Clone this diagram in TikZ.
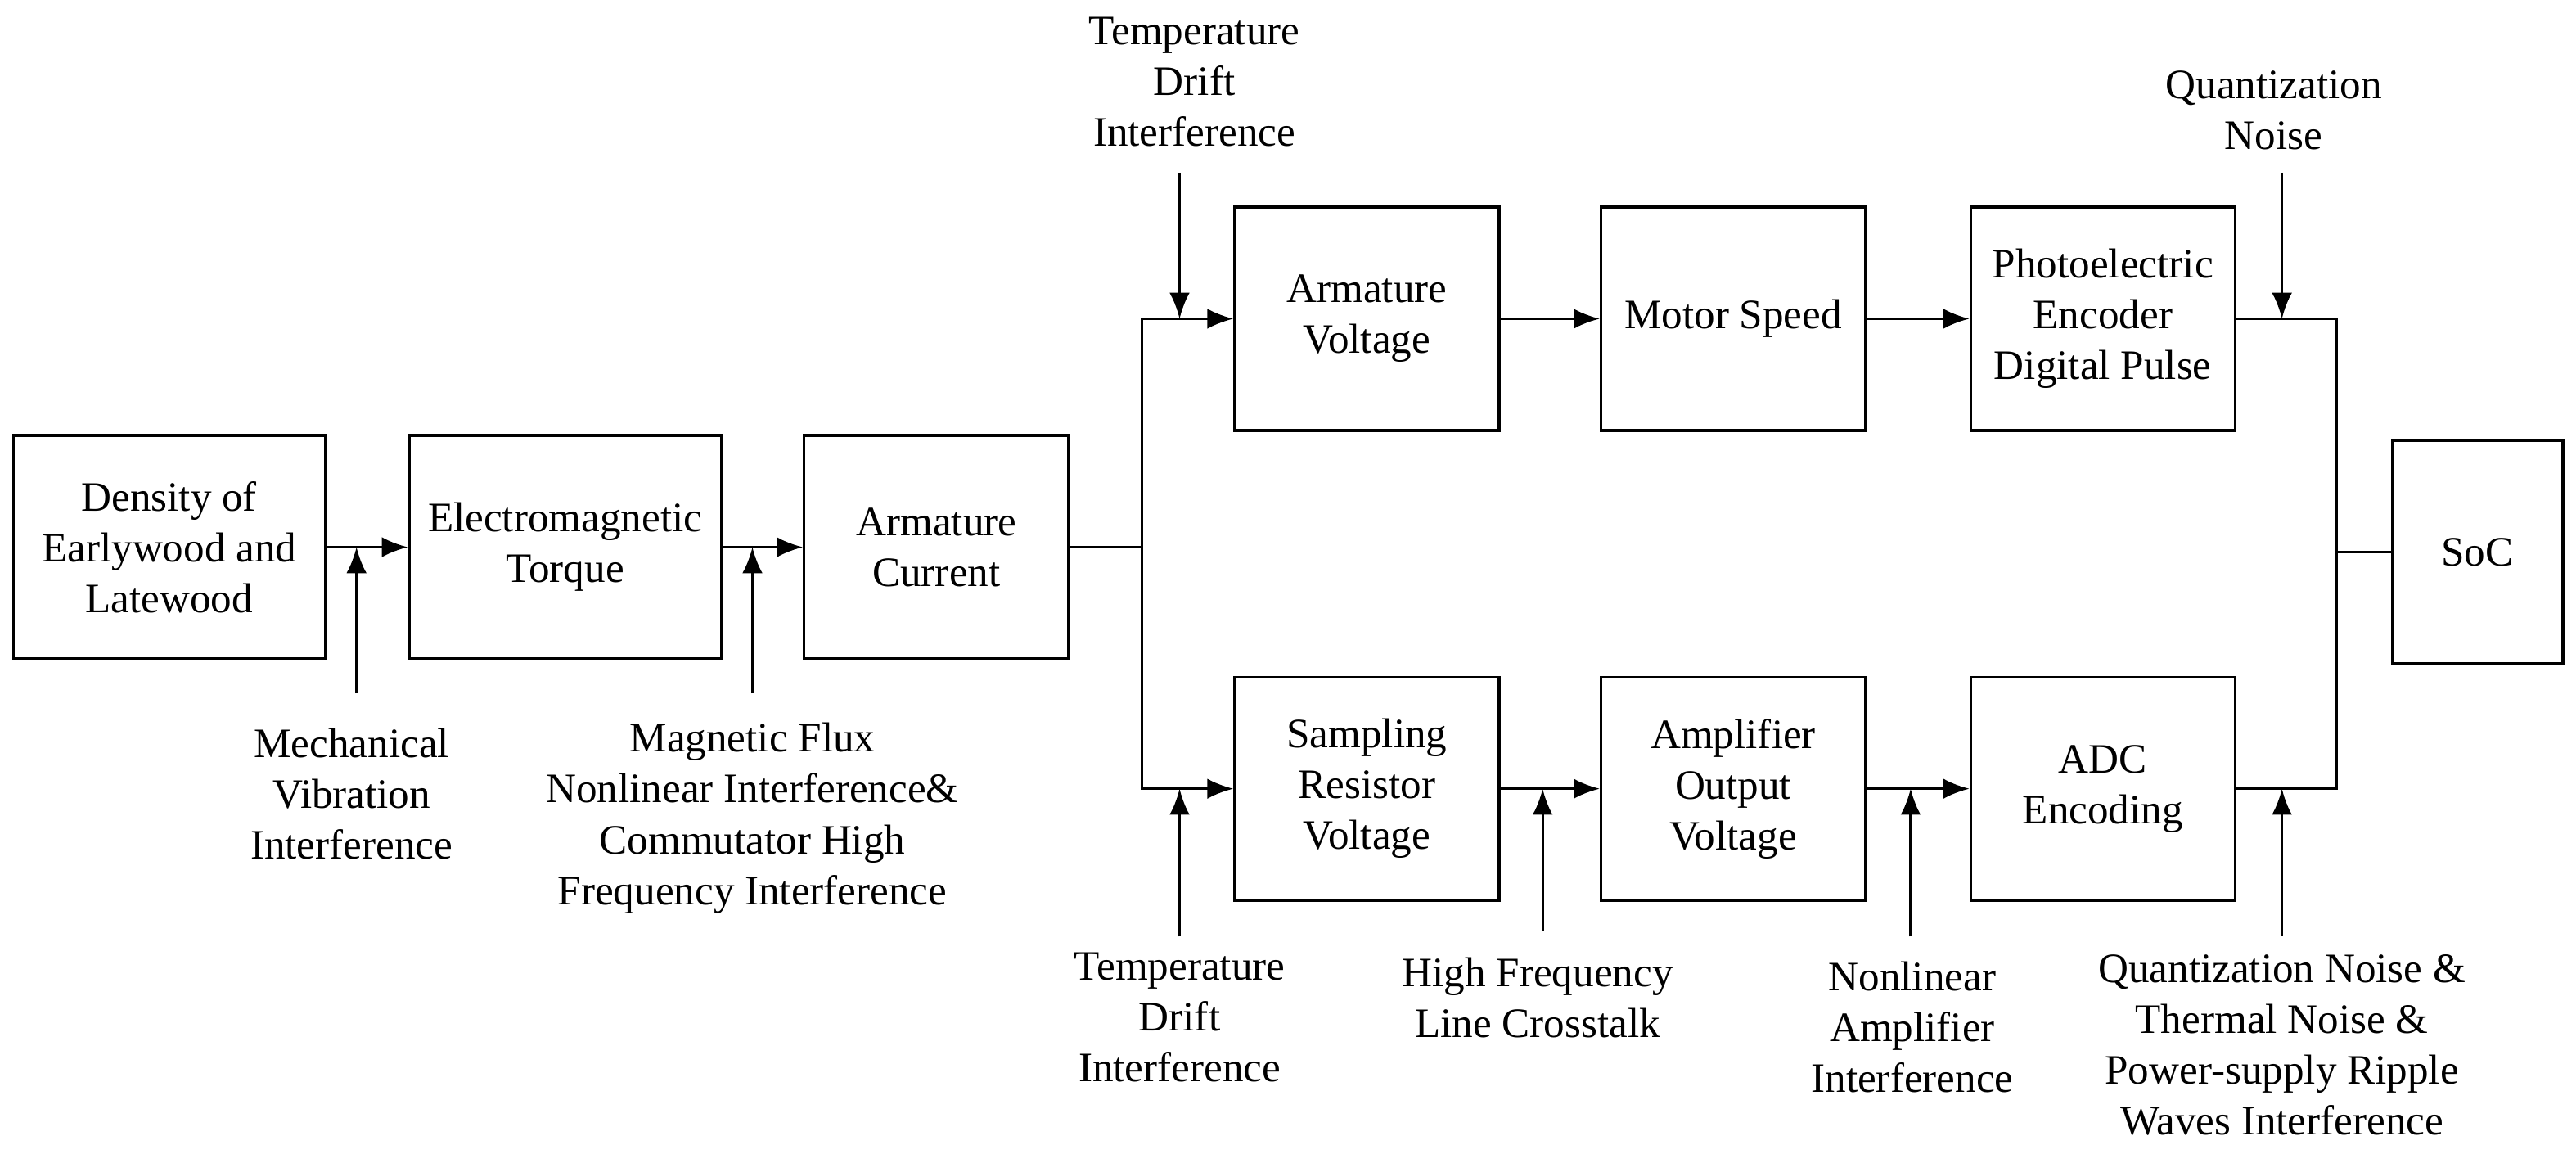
\documentclass[tikz,border=0pt]{standalone}
\usepackage{fontspec}
\setmainfont{Liberation Serif}
\usetikzlibrary{arrows.meta}
\begin{document}
\begin{tikzpicture}[x=0.02cm,y=-0.02cm,
  every node/.style={font=\fontsize{14.5}{17.6}\selectfont, align=center},
  box/.style={draw, line width=0.9pt, minimum height=2.72cm, inner sep=1pt},
  wide/.style={box, minimum width=3.8cm},
  nar/.style={box, minimum width=3.22cm},
  lab/.style={inner sep=0pt},
  con/.style={line width=0.9pt},
  arr/.style={con, -{Latex[length=9pt,width=7pt]}}]
\useasboundingbox (0,0) rectangle (1568,702);
\node[wide] (d) at (103,333) {Density of\\Earlywood and\\Latewood};
\node[wide] (e) at (344,333) {Electromagnetic\\Torque};
\node[nar] (c) at (570,333) {Armature\\Current};
\node[nar] (av) at (832,194) {Armature\\Voltage};
\node[nar] (ms) at (1055,194) {Motor Speed};
\node[nar] (pe) at (1280,194) {Photoelectric\\Encoder\\Digital Pulse};
\node[nar] (sr) at (832,480) {Sampling\\Resistor\\Voltage};
\node[nar] (ao) at (1055,480) {Amplifier\\Output\\Voltage};
\node[nar] (adc) at (1280,480) {ADC\\Encoding};
\node[box, minimum width=2.08cm] (soc) at (1508,336) {SoC};
\coordinate (b) at (695,333);
\coordinate (m) at (1422,336);
\draw[arr] (d) -- (e);
\draw[arr] (e) -- (c);
\draw[con] (c) -- (b);
\draw[arr] (b) |- (av);
\draw[arr] (b) |- (sr);
\draw[arr] (av) -- (ms);
\draw[arr] (ms) -- (pe);
\draw[arr] (sr) -- (ao);
\draw[arr] (ao) -- (adc);
\draw[con] (pe) -| (m);
\draw[con] (adc) -| (m);
\draw[con] (m) -- (soc);
% noise
\node[lab] (n1) at (214,483) {Mechanical\\Vibration\\Interference};
\node[lab] (n2) at (458,498) {Magnetic Flux\\Nonlinear Interference\&\\Commutator High\\Frequency Interference};
\node[lab] (n3) at (727,50) {Temperature\\Drift\\Interference};
\node[lab] (n4) at (718,619) {Temperature\\Drift\\Interference};
\node[lab] (n5) at (936,607) {High Frequency\\Line Crosstalk};
\node[lab] (n6) at (1164,625) {Nonlinear\\Amplifier\\Interference};
\node[lab] (n7) at (1384,67) {Quantization\\Noise};
\node[lab] (n8) at (1389,636) {Quantization Noise \&\\Thermal Noise \&\\Power-supply Ripple\\Waves Interference};
\coordinate (s1) at (217,422); \coordinate (t1) at (217,333);
\coordinate (s2) at (458,422); \coordinate (t2) at (458,333);
\coordinate (s3) at (718,105); \coordinate (t3) at (718,194);
\coordinate (s4) at (718,570); \coordinate (t4) at (718,480);
\coordinate (s5) at (939,567); \coordinate (t5) at (939,480);
\coordinate (s6) at (1163,570); \coordinate (t6) at (1163,480);
\coordinate (s7) at (1389,105); \coordinate (t7) at (1389,194);
\coordinate (s8) at (1389,570); \coordinate (t8) at (1389,480);
\foreach \i in {1,...,8} \draw[arr] (s\i) -- (t\i);
\end{tikzpicture}
\end{document}
